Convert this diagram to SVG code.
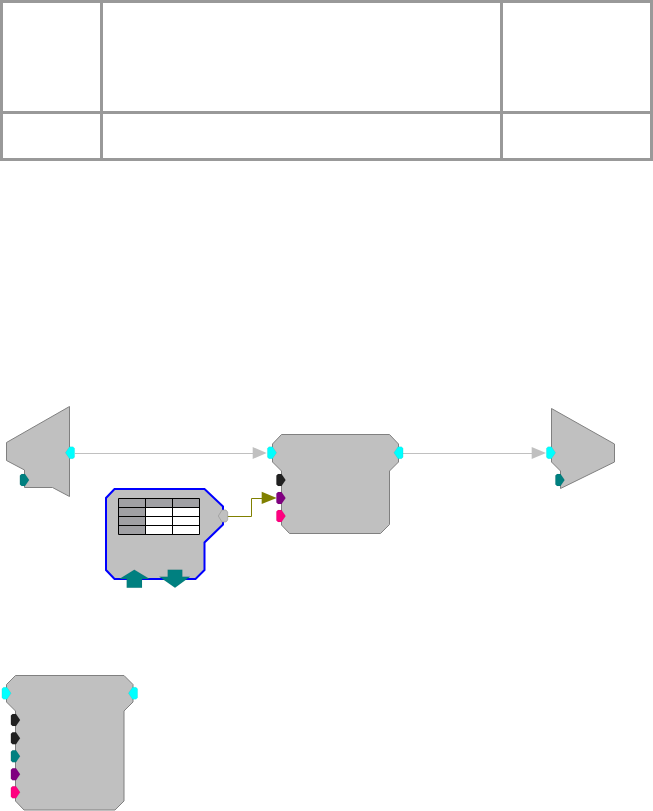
<svg xmlns="http://www.w3.org/2000/svg" xmlns:xlink="http://www.w3.org/1999/xlink" width="653" height="811" viewBox="0 0 653 811">
<style>
.body{fill:#c0c0c0;stroke:#808080;stroke-width:1}
.blue{fill:#c0c0c0;stroke:#0000ff;stroke-width:2}
.wire{fill:none;stroke:#c0c0c0;stroke-width:1}
.wire2{fill:none;stroke:#808000;stroke-width:1}
.grid{fill:none;stroke:#999;stroke-width:3}
.cyan{fill:#00ffff}.teal{fill:#008080}.dark{fill:#212121}.purple{fill:#800080}.pink{fill:#ff0080}.grey{fill:#c0c0c0;stroke:#909090;stroke-width:.6}
.cyan,.teal,.dark,.purple,.pink{stroke:#000;stroke-opacity:.12;stroke-width:.5}
</style>
<defs>
<polygon id="pr" points="-4.6,-4.5 -3,-6 0.5,-6 4.6,0 0.5,6 -3,6 -4.6,4.5"/>
<polygon id="pl" points="4.6,-4.5 3,-6 -0.5,-6 -4.6,0 -0.5,6 3,6 4.6,4.5"/>
</defs>
<rect width="653" height="811" fill="#fff"/>
<g id="table-frame">
<path class="grid" d="M1.5 1.5H651.5V159.5H1.5ZM1.5 112.5H651.5M101.5 1.5V159.5M501.5 1.5V159.5"/>
</g>
<g id="connectors">
<path class="wire" d="M75 453.5H254M403 453.5H532"/>
<polygon fill="#c0c0c0" points="252.7,447 266.7,453 252.7,459"/>
<polygon fill="#c0c0c0" points="531.7,447 546,453 531.7,459"/>
<path class="wire2" d="M227.5 516.5H251.5V498.5H263"/>
<polygon fill="#808000" points="261.7,491.7 276.7,498 261.7,504"/>
</g>
<g id="node-left-trapezoid">
<polygon class="body" points="6.5,442.5 69.5,406.5 69.5,496.5 52.5,487.5 24.5,487.5 24.5,470 6.5,460.5"/>
<use href="#pl" class="cyan" x="70" y="452.7"/>
<use href="#pr" class="teal" x="24.5" y="480"/>
</g>
<g id="node-center-block">
<polygon class="body" points="281.5,434.5 389.5,434.5 398.5,444 398.5,462 389.5,471 389.5,524.5 380.5,533.5 289.5,533.5 281.5,525 281.5,471 272.5,462 272.5,444"/>
<use href="#pr" class="cyan" x="272" y="452.7"/>
<use href="#pl" class="cyan" x="398.5" y="452.7"/>
<use href="#pr" class="dark" x="281" y="480"/>
<use href="#pr" class="purple" x="281" y="498"/>
<use href="#pr" class="pink" x="281" y="516"/>
</g>
<g id="node-right-trapezoid">
<polygon class="body" points="551.5,408.5 614.5,444 614.5,462 560.5,488.5 560.5,471 551.5,462"/>
<use href="#pr" class="cyan" x="551" y="452.7"/>
<use href="#pr" class="teal" x="560" y="480"/>
</g>
<g id="node-table-block">
<polygon class="blue" points="114.5,489 204.5,489 223,506.5 223,524.5 204.5,542.5 204.5,570 195.5,579 114.5,579 106,570 106,498"/>
<polygon class="grey" points="227.7,512 226,510 222,510 218.3,516 222,522 226,522 227.7,520"/>
<rect x="118.5" y="498.5" width="81" height="36" fill="#fff"/>
<path fill="#a0a0a4" d="M118.5 498.5H199.5V507.5H145.5V534.5H118.5Z"/>
<path fill="none" stroke="#000" d="M118.5 498.5H199.5V534.5H118.5ZM118.5 507.5H199.5M118.5 516.5H199.5M118.5 525.5H199.5M145.5 498.5V534.5M172.5 498.5V534.5"/>
<polygon class="teal" points="134.3,569.7 149.7,579 142,579 142,587.7 126.7,587.7 126.7,579 119.3,579"/>
<polygon class="teal" points="167.7,569.7 182.3,569.7 182.3,576.7 190,576.7 175,587.7 159.3,576.7 167.7,576.7"/>
</g>
<g id="node-lower-block">
<polygon class="body" points="15.5,675.5 124,675.5 133,684.5 133,702 124,711 124,801 115,810 24,810 15.5,801 15.5,711 6.5,702 6.5,684.5"/>
<use href="#pr" class="cyan" x="6.5" y="693.3"/>
<use href="#pl" class="cyan" x="133" y="693.3"/>
<use href="#pr" class="dark" x="15.5" y="720"/>
<use href="#pr" class="dark" x="15.5" y="738.3"/>
<use href="#pr" class="teal" x="15.5" y="756.3"/>
<use href="#pr" class="purple" x="15.5" y="774.3"/>
<use href="#pr" class="pink" x="15.5" y="792.3"/>
</g>
</svg>
